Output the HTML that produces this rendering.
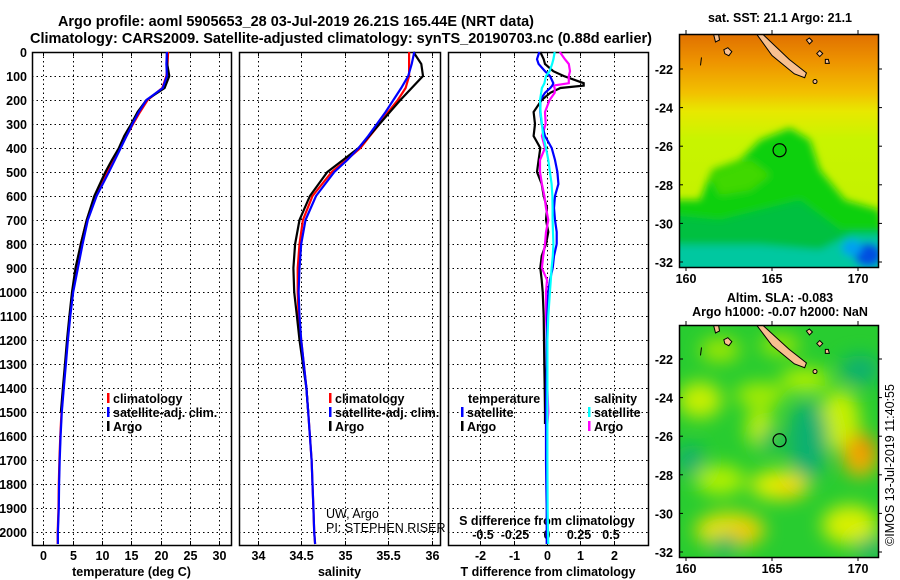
<!DOCTYPE html>
<html><head><meta charset="utf-8"><style>
html,body{margin:0;padding:0;background:#fff}
svg{display:block;font-family:"Liberation Sans",Arial,sans-serif;font-weight:bold}
</style></head><body>
<svg id="fig" width="900" height="580" viewBox="0 0 900 580" xmlns="http://www.w3.org/2000/svg">
<defs>
<filter id="blur1" x="-20%" y="-20%" width="140%" height="140%"><feGaussianBlur stdDeviation="4"/></filter>
<filter id="blur2" x="-30%" y="-30%" width="160%" height="160%"><feGaussianBlur stdDeviation="9"/></filter>
<clipPath id="clipMap1"><rect x="679" y="34" width="199" height="233"/></clipPath>
<clipPath id="clipMap2"><rect x="679" y="325" width="199" height="232"/></clipPath>
<linearGradient id="sstGrad" x1="0" y1="0" x2="0" y2="1">
<stop offset="0" stop-color="#e07000"/><stop offset="0.12" stop-color="#ee9400"/><stop offset="0.25" stop-color="#f2c000"/><stop offset="0.33" stop-color="#e8e800"/><stop offset="0.45" stop-color="#c8f400"/><stop offset="1" stop-color="#c0f000"/>
</linearGradient>
</defs>
<rect x="0" y="0" width="900" height="580" fill="#fff"/>
<text x="58" y="26" font-size="15" textLength="476" lengthAdjust="spacingAndGlyphs">Argo profile: aoml 5905653_28 03-Jul-2019 26.21S 165.44E (NRT data)</text>
<text x="30" y="43" font-size="15" textLength="622" lengthAdjust="spacingAndGlyphs">Climatology: CARS2009. Satellite-adjusted climatology: synTS_20190703.nc (0.88d earlier)</text>
<g id="plots"></g>
<g id="maps"></g>
<text transform="translate(894,465) rotate(-90)" text-anchor="middle" font-size="12.5" font-weight="normal">©IMOS 13-Jul-2019 11:40:55</text>
</svg>
<script>
// ---------- data ----------
const depthLevels = [0,50,100,150,200,250,300,350,400,450,500,600,700,800,900,1000,1100,1200,1300,1400,1500,1600,1700,1800,1900,2000,2050];
const tempClim = [21.3,21.2,21.0,20.3,17.8,16.5,15.3,14.2,13.1,12.0,10.9,8.8,7.4,6.4,5.7,5.0,4.55,4.15,3.8,3.45,3.1,2.9,2.75,2.65,2.6,2.45,2.45];
const tempSat = [21.1,21.0,21.1,20.4,17.6,16.3,15.2,14.2,13.2,12.2,11.2,9.1,7.6,6.7,5.9,5.1,4.6,4.2,3.85,3.5,3.15,2.95,2.8,2.7,2.65,2.5,2.5];
const tempArgo = [21.1,21.15,21.5,20.7,17.6,16.1,15.0,13.8,12.9,11.7,10.6,8.7,7.4,6.4,5.5,4.9,4.45,4.05,3.7,3.35,3.0];
const salClim = [35.74,35.74,35.74,35.70,35.61,35.50,35.40,35.29,35.18,35.02,34.85,34.63,34.52,34.48,34.46,34.46,34.47,34.50,34.53,34.56,34.58,34.60,34.62,34.63,34.64,34.65,34.66];
const salSat = [35.80,35.77,35.73,35.65,35.56,35.47,35.37,35.27,35.16,35.03,34.88,34.67,34.55,34.50,34.48,34.47,34.48,34.50,34.53,34.56,34.58,34.60,34.62,34.63,34.64,34.65,34.66];
const salArgo = [35.79,35.88,35.90,35.77,35.64,35.52,35.40,35.28,35.16,34.98,34.80,34.60,34.48,34.43,34.41,34.42,34.45,34.48,34.52,34.56,34.58];
const diffDepth = [0,30,50,80,100,130,140,150,170,200,250,300,350,400,450,500,550,600,650,700,750,800,850,900,950,1000,1100,1200,1300,1400,1500,1550,1600,1700,1800,1900,2000,2050];
const dTArgo = [-0.2,-0.1,-0.06,0.19,0.5,1.1,1.1,0.4,0.1,-0.16,-0.4,-0.36,-0.4,-0.2,-0.25,-0.3,-0.16,-0.1,0.0,-0.03,0.04,-0.03,-0.16,-0.2,-0.16,-0.13,-0.1,-0.09,-0.08,-0.07,-0.06,-0.06];
const dTSat = [-0.23,-0.3,-0.25,-0.06,0.09,0.19,0.16,0.1,-0.06,-0.2,-0.2,-0.16,-0.06,0.14,0.24,0.31,0.34,0.24,0.21,0.24,0.29,0.29,0.21,0.17,0.09,0.04,0.01,-0.01,-0.01,-0.02,-0.03,-0.03,-0.03,-0.03,-0.02,-0.01,-0.01,-0.01];
const dSArgo = [0.10,0.14,0.17,0.18,0.17,0.17,0.05,0.06,0.06,0.02,-0.016,-0.01,-0.04,-0.016,-0.055,-0.055,-0.04,-0.02,-0.008,0.01,-0.008,-0.016,-0.03,-0.04,0.0,-0.008,-0.008,0.0,0.003,0.003,0.01,0.003];
const dSSat = [0.06,0.05,0.04,0.02,-0.008,-0.02,-0.03,-0.04,-0.045,-0.055,-0.05,-0.04,-0.03,-0.008,0.01,0.023,0.036,0.042,0.044,0.044,0.047,0.05,0.045,0.036,0.03,0.023,0.01,0.003,0.003,0.003,0.003,0.003,0.003,0.003,0.004,0.005,0.008,0.01];
const depthTicks = [0,100,200,300,400,500,600,700,800,900,1000,1100,1200,1300,1400,1500,1600,1700,1800,1900,2000];
const tempTicks = [0,5,10,15,20,25,30];
const salTicks = [34,34.5,35,35.5,36];
const salTickLabels = ["34","34.5","35","35.5","36"];
const dTTicks = [-2,-1,0,1,2];
const dSTicks = [-0.5,-0.25,0,0.25,0.5];
const dSTickLabels = ["-0.5","-0.25","0","0.25","0.5"];
const latTicks = [-22,-24,-26,-28,-30,-32];
const lonTicks = [160,165,170];
const floatLon = 165.44, floatLat = -26.21;

// ---------- helpers ----------
const NS = "http://www.w3.org/2000/svg";
function mk(tag, attrs, parent){const e=document.createElementNS(NS,tag);for(const k in attrs)e.setAttribute(k,attrs[k]);parent.appendChild(e);return e;}
const plots = document.getElementById('plots');
const Y0 = 52, PY = 0.24, PB = 545;
function yDepth(d){return Y0 + d*PY;}

function panel(name, x0, x1, xFn, ticks, labels, xlabel){
  const g = mk('g',{},plots);
  
  
  depthTicks.forEach(d=>{
    const y = Math.round(yDepth(d))+0.5;
    const l = mk('line',{x1:x0,x2:x1,y1:y,y2:y,stroke:'#000','stroke-width':1.3,'stroke-dasharray':'1.3,3.2','shape-rendering':'crispEdges'},g);
    
    
  });
  ticks.forEach((t,i)=>{
    const x = Math.round(xFn(t))+0.5;
    const l = mk('line',{x1:x,x2:x,y1:Y0,y2:PB,stroke:'#000','stroke-width':1.3,'stroke-dasharray':'1.3,3.2','shape-rendering':'crispEdges'},g);
    
    
    mk('line',{x1:x,x2:x,y1:PB,y2:PB-4,stroke:'#000'},g);
    mk('line',{x1:x,x2:x,y1:Y0,y2:Y0+4,stroke:'#000'},g);
    if(labels){
      const tx = mk('text',{x:x,y:560,'text-anchor':'middle','font-size':12.5},g);
      tx.textContent = labels[i];
      
      
    }
  });
  const r = mk('rect',{x:x0+0.5,y:Y0+0.5,width:x1-x0,height:PB-Y0,fill:'none',stroke:'#000','stroke-width':1.5},g);
  
  
  if(xlabel){
    const t = mk('text',{x:(x0+x1)/2,y:576,'text-anchor':'middle','font-size':12.5},g);
    t.textContent = xlabel;
    
    
  }
  return g;
}
function series(g, name, xs, ds, xFn, color){
  const pts = xs.map((v,i)=>xFn(v).toFixed(1)+','+yDepth(ds[i]).toFixed(1)).join(' ');
  const p = mk('polyline',{points:pts,fill:'none',stroke:color,'stroke-width':2.2,'stroke-linejoin':'miter'},g);
  
  
}
function legend(g, x, y, color, text, name){
  mk('rect',{x:x,y:y-10,width:2.5,height:10,fill:color},g);
  const t = mk('text',{x:x+6,y:y,'font-size':12.5},g);
  t.textContent = text;
  
  
}

// depth labels
depthTicks.forEach(d=>{
  const t = mk('text',{x:27,y:yDepth(d)+5,'text-anchor':'end','font-size':12.5},plots);
  t.textContent = d;
  
  
});

// panel 1: temperature
const xT = v => 43.3 + v*5.86;
const g1 = panel('temperature-panel', 32, 231, xT, tempTicks, tempTicks.map(String), 'temperature (deg C)');
series(g1,'temp-climatology-line',tempClim,depthLevels,xT,'#ff0000');
series(g1,'temp-argo-line',tempArgo,depthLevels,xT,'#000000');
series(g1,'temp-satellite-line',tempSat,depthLevels,xT,'#0000ff');
legend(g1,107,403,'#ff0000','climatology','legend-climatology');
legend(g1,107,417,'#0000ff','satellite-adj. clim.','legend-satellite');
legend(g1,107,431,'#000000','Argo','legend-argo');

// panel 2: salinity
const xS = v => 257.7 + (v-34)*87;
const g2 = panel('salinity-panel', 239, 440, xS, salTicks, salTickLabels, 'salinity');
series(g2,'sal-climatology-line',salClim,depthLevels,xS,'#ff0000');
series(g2,'sal-argo-line',salArgo,depthLevels,xS,'#000000');
series(g2,'sal-satellite-line',salSat,depthLevels,xS,'#0000ff');
legend(g2,329,403,'#ff0000','climatology','legend-climatology');
legend(g2,329,417,'#0000ff','satellite-adj. clim.','legend-satellite');
legend(g2,329,431,'#000000','Argo','legend-argo');
[['UW, Argo',518],['PI: STEPHEN RISER',532]].forEach(a=>{
  const t = mk('text',{x:326,y:a[1],'font-size':12.5,'font-weight':'normal'},g2);
  t.textContent = a[0];
  
  
});

// panel 3: differences
const xdT = v => 547 + v*33.4;
const xdS = v => 547 + v*128;
const g3 = panel('difference-panel', 448, 648, xdT, dTTicks, dTTicks.map(String), 'T difference from climatology');
dSTicks.forEach((t,i)=>{
  const tx = mk('text',{x:xdS(t),y:539,'text-anchor':'middle','font-size':12.5},g3);
  tx.textContent = dSTickLabels[i];
  
  
});
const sl = mk('text',{x:547,y:525,'text-anchor':'middle','font-size':12.5},g3);
sl.textContent = 'S difference from climatology';


series(g3,'dT-argo-line',dTArgo,diffDepth,xdT,'#000000');
series(g3,'dS-argo-line',dSArgo,diffDepth,xdS,'#ff00ff');
series(g3,'dT-satellite-line',dTSat,diffDepth,xdT,'#0000ff');
series(g3,'dS-satellite-line',dSSat,diffDepth,xdS,'#00ffff');
const lt = mk('text',{x:468,y:403,'font-size':12.5},g3); lt.textContent='temperature';


legend(g3,461,417,'#0000ff','satellite','legend-t-satellite');
legend(g3,461,431,'#000000','Argo','legend-t-argo');
const ls = mk('text',{x:594,y:403,'font-size':12.5},g3); ls.textContent='salinity';


legend(g3,588,417,'#00ffff','satellite','legend-s-satellite');
legend(g3,588,431,'#ff00ff','Argo','legend-s-argo');

// ---------- maps ----------
const maps = document.getElementById('maps');
const lonX = lon => 686 + (lon-160)*17.2;
function mapFrame(name, top, bottom, latY, title1, title2, clip, fillFn){
  const g = mk('g',{},maps);
  
  
  const c = mk('g',{'clip-path':'url(#'+clip+')'},g);
  fillFn(c);
  const nc = mk('polygon',{points:[[lonX(164.1),top],[lonX(164.45),top],[lonX(166.0),latY(-21.5)],[lonX(167.0),latY(-22.2)],[lonX(166.9),latY(-22.45)],[lonX(166.3),latY(-22.25)],[lonX(165.0),latY(-21.3)]].map(p=>p.join(',')).join(' '),fill:'#f8c090',stroke:'#000','stroke-width':1},c);
  
  
  mk('path',{d:`M${lonX(161.6)},${top} l2,8 l4,-2 l-1,-6 M${lonX(160.9)},${latY(-21.4)} l-1,8 M${lonX(162.2)},${latY(-21.0)} l4,-2 l4,4 l-3,4 l-4,-2 z M${lonX(167.0)},${top+6} l3,-2 l3,3 l-3,3z M${lonX(167.6)},${latY(-21.2)} l3,-3 l3,3 l-3,3z M${lonX(168.1)},${latY(-21.5)} l3,0 l1,4 l-4,0z`,fill:'#f8c090',stroke:'#000','stroke-width':1},c);
  mk('circle',{cx:lonX(167.5),cy:latY(-22.65),r:2,fill:'#f8c090',stroke:'#000'},c);
  const fc = mk('circle',{cx:lonX(floatLon),cy:latY(floatLat),r:6.5,fill:'none',stroke:'#000','stroke-width':1.2},g);
  
  
  mk('rect',{x:679.5,y:top+0.5,width:199,height:bottom-top,fill:'none',stroke:'#000','stroke-width':1.5},g);
  latTicks.forEach(l=>{
    const y = latY(l);
    mk('line',{x1:679,x2:683,y1:y,y2:y,stroke:'#000'},g);
    mk('line',{x1:878,x2:882,y1:y,y2:y,stroke:'#000'},g);
    const t = mk('text',{x:673,y:y+5,'text-anchor':'end','font-size':12.5},g);
    t.textContent = l;
    
    
  });
  lonTicks.forEach(l=>{
    const x = lonX(l);
    mk('line',{x1:x,x2:x,y1:bottom,y2:bottom+4,stroke:'#000'},g);
    mk('line',{x1:x,x2:x,y1:top,y2:top-4,stroke:'#000'},g);
    const t = mk('text',{x:x,y:bottom+16,'text-anchor':'middle','font-size':12.5},g);
    t.textContent = l;
    
    
  });
  title1.forEach(tt=>{
    const t = mk('text',{x:780,y:tt[1],'text-anchor':'middle','font-size':12.5},g);
    t.textContent = tt[0];
    
    
  });
}
const lat1 = l => 69 + (-22-l)*19.3;
mapFrame('sst-map',34,267,lat1,[['sat. SST: 21.1 Argo: 21.1',22]],null,'clipMap1',c=>{
  mk('rect',{x:679,y:34,width:200,height:234,fill:'url(#sstGrad)'},c);
  const gg = mk('g',{filter:'url(#blur1)'},c);
  mk('polygon',{points:'670,290 670,200 700,200 712,170 740,160 760,140 790,128 810,140 820,170 845,200 880,210 890,290',fill:'#10d010'},gg);
  mk('polygon',{points:'670,290 670,215 720,220 760,210 800,200 840,230 890,230 890,290',fill:'#00c040'},gg);
  mk('polygon',{points:'670,290 670,245 760,245 820,250 850,235 890,235 890,290',fill:'#00c8a0'},gg);
  mk('polygon',{points:'710,175 750,160 770,175 750,190 720,195',fill:'#40d800'},gg);
  mk('ellipse',{cx:868,cy:255,rx:14,ry:12,fill:'#0050e0'},gg);
  mk('ellipse',{cx:852,cy:248,rx:10,ry:8,fill:'#00a0f0'},gg);
});
const lat2 = l => 359 + (-22-l)*19.3;
mapFrame('sla-map',325,557,lat2,[['Altim. SLA: -0.083',302],['Argo h1000: -0.07 h2000: NaN',316]],null,'clipMap2',c=>{
  mk('rect',{x:679,y:325,width:200,height:233,fill:'#28cc30'},c);
  const gg = mk('g',{filter:'url(#blur2)'},c);
  const blobs = [
    [700,400,22,18,'#c8f000'],[760,395,25,12,'#a8ec00'],[805,380,25,12,'#b0f000'],[760,428,14,20,'#c0f000'],
    [840,420,20,30,'#c8f000'],[860,455,18,22,'#f0b000'],[865,448,10,12,'#f09000'],[780,485,30,15,'#e0f000'],
    [790,488,15,8,'#f8d000'],[720,480,25,15,'#b0f000'],[730,530,35,18,'#e8e000'],[745,532,15,8,'#f0c000'],
    [850,525,28,20,'#d8f000'],[720,350,20,12,'#a0e800'],[780,345,20,10,'#a0e800'],
    [808,440,20,40,'#10b070'],[860,370,20,15,'#10b070'],[690,460,14,15,'#10b070'],[725,545,12,10,'#10b070'],[870,548,14,10,'#10b070'],[770,440,10,12,'#20b860']
  ];
  blobs.forEach(b=>mk('ellipse',{cx:b[0],cy:b[1],rx:b[2],ry:b[3],fill:b[4]},gg));
});
</script>
</body></html>
